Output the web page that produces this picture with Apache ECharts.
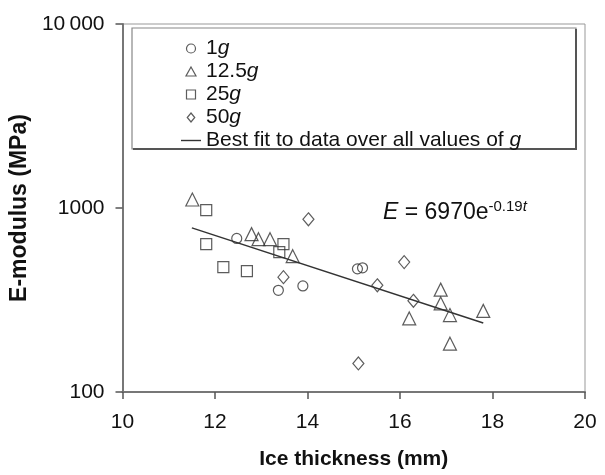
<!DOCTYPE html>
<html>
	<head>
		<meta charset="utf-8">
		<title>E-modulus vs ice thickness</title>
		<script src="https://cdn.jsdelivr.net/npm/echarts@6/dist/echarts.min.js"></script>
	</head>
	<body style="margin:0">
		<div id="box" style="width: 605px;height: 475px;"></div>
		<script>
			var mCharts = echarts.init(document.querySelector('#box'))

			var seriesNames = ['1g', '12.5g', '25g', '50g']
			var fitName = 'Best fit to data over all values of g'

			// ice thickness (mm) / E-modulus (MPa)
			var t1g = [12.47, 13.37, 13.90, 15.08, 15.19]
			var e1g = [683, 357, 377, 467, 473]
			var t12g = [11.51, 12.79, 12.94, 13.19, 13.68, 16.20, 16.88, 16.88, 17.08, 17.08, 17.80]
			var e12g = [1112, 721, 677, 677, 547, 251, 360, 303, 262, 183, 276]
			var t25g = [11.81, 11.81, 12.18, 12.69, 13.39, 13.48]
			var e25g = [974, 637, 477, 454, 575, 637]
			var t50g = [13.48, 14.02, 15.10, 15.51, 16.09, 16.29]
			var e50g = [421, 868, 143, 380, 508, 313]
			// fitted line end points
			var tFit = [11.5, 17.8]
			var eFit = [780, 237]

			var yTicks = [100, 1000, 10000]
			var yTickLabels = ['100', '1000', '10\u2009000']

			function pairs(xs, ys) {
				return xs.map(function(x, i) { return [x, ys[i]] })
			}

			var font = 'Liberation Sans, Arial, sans-serif'
			var markStyle = { color: 'rgba(0,0,0,0)', borderColor: '#333', borderWidth: 1.2 }
			var symbols = ['circle', 'triangle', 'rect', 'diamond']
			var sizes = [10, 13, 11, [11, 13]]
			// legend icons keep their aspect inside the 20 px wide item box
			var legendIcons = [
				'path://M10,5A5,5,0,1,1,0,5A5,5,0,1,1,10,5Z',
				'path://M5,0L10,9L0,9Z',
				'path://M0,0L10,0L10,10L0,10Z',
				'path://M5,0L10,6L5,12L0,6Z'
			]
			var allData = [pairs(t1g, e1g), pairs(t12g, e12g), pairs(t25g, e25g), pairs(t50g, e50g)]

			var series = seriesNames.map(function(name, i) {
				return {
					name: name,
					type: 'scatter',
					symbol: symbols[i],
					symbolSize: sizes[i],
					itemStyle: markStyle,
					data: allData[i],
					z: 3
				}
			})
			series.push({
				name: fitName,
				type: 'line',
				symbol: 'none',
				lineStyle: { color: '#333', width: 1.5 },
				data: pairs(tFit, eFit),
				z: 2
			})

			var legendData = seriesNames.map(function(name, i) {
				return { name: name, icon: legendIcons[i] }
			})
			legendData.push({
				name: fitName,
				icon: 'path://M0,0L20,0L20,1.4L0,1.4Z',
				itemStyle: { color: '#333', borderWidth: 0 }
			})

			var option = {
				animation: false,
				textStyle: { fontFamily: font },
				grid: {
					left: 122, right: 20, top: 24, bottom: 81,
					show: true, borderColor: '#999', borderWidth: 1
				},
				legend: {
					orient: 'vertical',
					left: 176, top: 33,
					itemWidth: 20, itemHeight: 9, itemGap: 2,
					symbolKeepAspect: true,
					data: legendData,
					itemStyle: { color: 'rgba(0,0,0,0)', borderColor: '#333', borderWidth: 1.2 },
					textStyle: {
						fontSize: 21, color: '#111', lineHeight: 21,
						rich: { i: { fontStyle: 'italic', fontSize: 21, color: '#111' } }
					},
					formatter: function(name) {
						return name.slice(0, -1) + '{i|g}'
					}
				},
				xAxis: {
					type: 'value',
					min: 10, max: 20, interval: 2,
					name: 'Ice thickness (mm)',
					nameLocation: 'middle',
					nameGap: 57,
					nameTextStyle: { fontSize: 21, fontWeight: 'bold', color: '#111' },
					axisLine: { lineStyle: { color: '#777', width: 2 } },
					axisTick: { length: 7, lineStyle: { color: '#555', width: 1.5 } },
					axisLabel: { fontSize: 21, color: '#111', margin: 20 },
					splitLine: { show: false }
				},
				yAxis: {
					type: 'log',
					logBase: 10,
					min: yTicks[0], max: yTicks[yTicks.length - 1],
					name: 'E-modulus (MPa)',
					nameLocation: 'middle',
					nameGap: 87,
					nameTextStyle: { fontSize: 23, fontWeight: 'bold', color: '#111' },
					axisLine: { show: true, lineStyle: { color: '#777', width: 2 } },
					axisTick: { length: 7, lineStyle: { color: '#555', width: 1.5 } },
					minorTick: { show: false },
					axisLabel: {
						fontSize: 21, color: '#111', margin: 18,
						formatter: function(v) {
							var i = yTicks.indexOf(Math.round(v))
							return i >= 0 ? yTickLabels[i] : ''
						}
					},
					splitLine: { show: false }
				},
				graphic: [
					{
						type: 'rect',
						shape: { x: 132, y: 28, width: 444, height: 121 },
						style: { fill: 'none', stroke: '#888', lineWidth: 1.2 },
						z: 1
					},
					{
						type: 'polyline',
						shape: { points: [[576, 29], [576, 149], [133, 149]] },
						style: { fill: 'none', stroke: '#555', lineWidth: 2 },
						z: 1
					},
					{
						type: 'text',
						left: 383, top: 199,
						style: {
							text: '{i|E} = 6970e{s|-0.19}{si|t}',
							font: '23px ' + font,
							fill: '#111',
							rich: {
								i: { fontStyle: 'italic', fontSize: 23, fill: '#111' },
								s: { fontSize: 15, fill: '#111', verticalAlign: 'top', padding: [0, 0, 12, 0] },
								si: { fontSize: 15, fontStyle: 'italic', fill: '#111', verticalAlign: 'top', padding: [0, 0, 12, 0] }
							}
						}
					}
				],
				series: series
			}
			mCharts.setOption(option)
		</script>
	</body>
</html>
